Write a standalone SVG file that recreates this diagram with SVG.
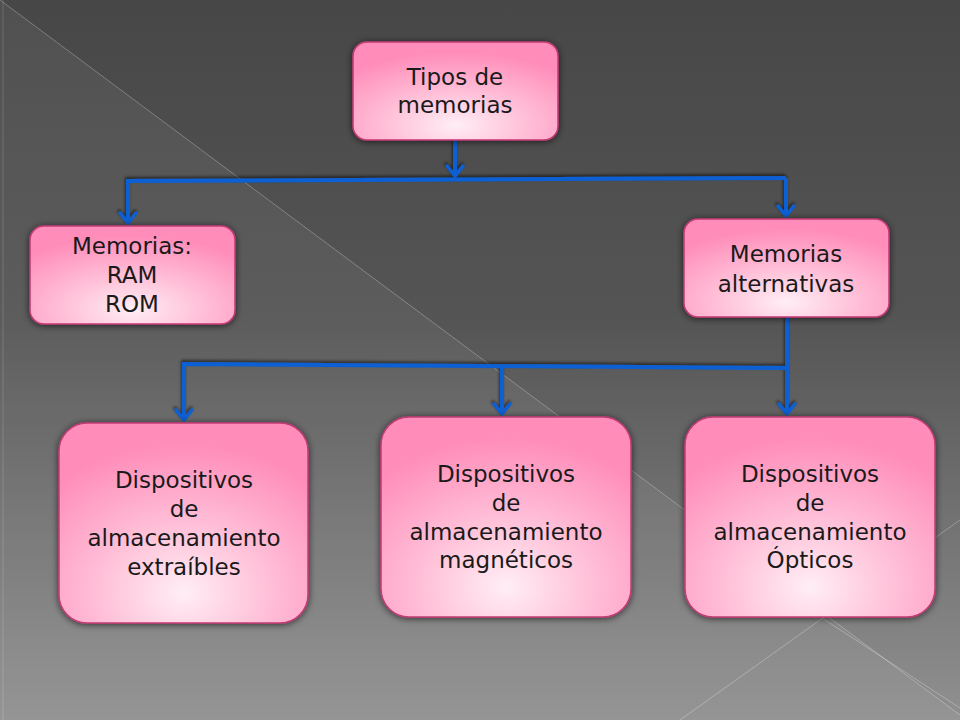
<svg xmlns="http://www.w3.org/2000/svg" width="960" height="720" viewBox="0 0 960 720">
<defs>
<linearGradient id="bg" x1="0" y1="0" x2="0" y2="1">
<stop offset="0" stop-color="#474747"/>
<stop offset="0.45" stop-color="#555555"/>
<stop offset="1" stop-color="#909090"/>
</linearGradient>
<radialGradient id="pink" cx="0.5" cy="0.85" r="0.75">
<stop offset="0" stop-color="#ffeef5"/>
<stop offset="0.45" stop-color="#ffc0d8"/>
<stop offset="1" stop-color="#ff8cb9"/>
</radialGradient>
<filter id="boxShadow" x="-20%" y="-20%" width="140%" height="140%">
<feDropShadow dx="0" dy="1" stdDeviation="3.5" flood-color="#000" flood-opacity="0.65"/>
</filter>
<filter id="lineShadow" x="-10%" y="-10%" width="120%" height="120%">
<feDropShadow dx="-1" dy="-2" stdDeviation="1.5" flood-color="#000" flood-opacity="0.55"/>
</filter>
<marker id="arrow" markerUnits="userSpaceOnUse" viewBox="-14 -12 18 24" refX="0" refY="0" markerWidth="18" markerHeight="24" orient="auto">
<path d="M-10,-8 L0,0 L-10,8" fill="none" stroke="#0b5fd4" stroke-width="3.5" stroke-linecap="round" stroke-linejoin="round"/>
</marker>
</defs>
<style>
.box{fill:url(#pink);stroke:#c23a74;stroke-width:1.5;filter:url(#boxShadow)}
.lbl{font-family:"DejaVu Sans","Liberation Sans",sans-serif;font-size:23px;fill:#1a1a1a;text-anchor:middle}
.conn{fill:none;stroke:#0b5fd4;stroke-width:4;stroke-linejoin:miter}
.bgline{stroke:#ffffff;stroke-opacity:0.28;stroke-width:1;fill:none}
</style>
<g id="background">
<rect x="0" y="0" width="960" height="720" fill="url(#bg)"/>
<polygon points="0,0 960,715 960,720 0,720" fill="#ffffff" fill-opacity="0.05"/>
<line class="bgline" x1="0" y1="0" x2="960" y2="715"/>
<line class="bgline" x1="680" y1="720" x2="960" y2="520"/>
<line class="bgline" x1="822" y1="618" x2="960" y2="708"/>
<line x1="3" y1="0" x2="3" y2="720" stroke="#ffffff" stroke-opacity="0.08" stroke-width="2"/>
</g>
<g id="connectors" filter="url(#lineShadow)">
<path class="conn" d="M455,140 V176" marker-end="url(#arrow)"/>
<path class="conn" d="M786,178 L128,181 V223" marker-end="url(#arrow)"/>
<path class="conn" d="M786,178 V216" marker-end="url(#arrow)"/>
<path class="conn" d="M787,317 V414" marker-end="url(#arrow)"/>
<path class="conn" d="M787,368 L184,364 V420" marker-end="url(#arrow)"/>
<path class="conn" d="M502,366 V414" marker-end="url(#arrow)"/>
</g>
<g id="node-tipos">
<rect class="box" x="353" y="42" width="205" height="98" rx="14"/>
<text class="lbl" x="455" y="85">Tipos de</text>
<text class="lbl" x="455" y="113">memorias</text>
</g>
<g id="node-ram-rom">
<rect class="box" x="30" y="226" width="205" height="98" rx="14"/>
<text class="lbl" x="132" y="254">Memorias:</text>
<text class="lbl" x="132" y="283">RAM</text>
<text class="lbl" x="132" y="312">ROM</text>
</g>
<g id="node-alternativas">
<rect class="box" x="684" y="219" width="205" height="98" rx="14"/>
<text class="lbl" x="786" y="262">Memorias</text>
<text class="lbl" x="786" y="292">alternativas</text>
</g>
<g id="node-extraibles">
<rect class="box" x="59" y="423" width="249" height="200" rx="28"/>
<text class="lbl" x="184" y="488">Dispositivos</text>
<text class="lbl" x="184" y="517">de</text>
<text class="lbl" x="184" y="546">almacenamiento</text>
<text class="lbl" x="184" y="575">extraíbles</text>
</g>
<g id="node-magneticos">
<rect class="box" x="381" y="417" width="250" height="200" rx="28"/>
<text class="lbl" x="506" y="482">Dispositivos</text>
<text class="lbl" x="506" y="511">de</text>
<text class="lbl" x="506" y="540">almacenamiento</text>
<text class="lbl" x="506" y="568">magnéticos</text>
</g>
<g id="node-opticos">
<rect class="box" x="685" y="417" width="250" height="200" rx="28"/>
<text class="lbl" x="810" y="482">Dispositivos</text>
<text class="lbl" x="810" y="511">de</text>
<text class="lbl" x="810" y="540">almacenamiento</text>
<text class="lbl" x="810" y="568">Ópticos</text>
</g>
</svg>
